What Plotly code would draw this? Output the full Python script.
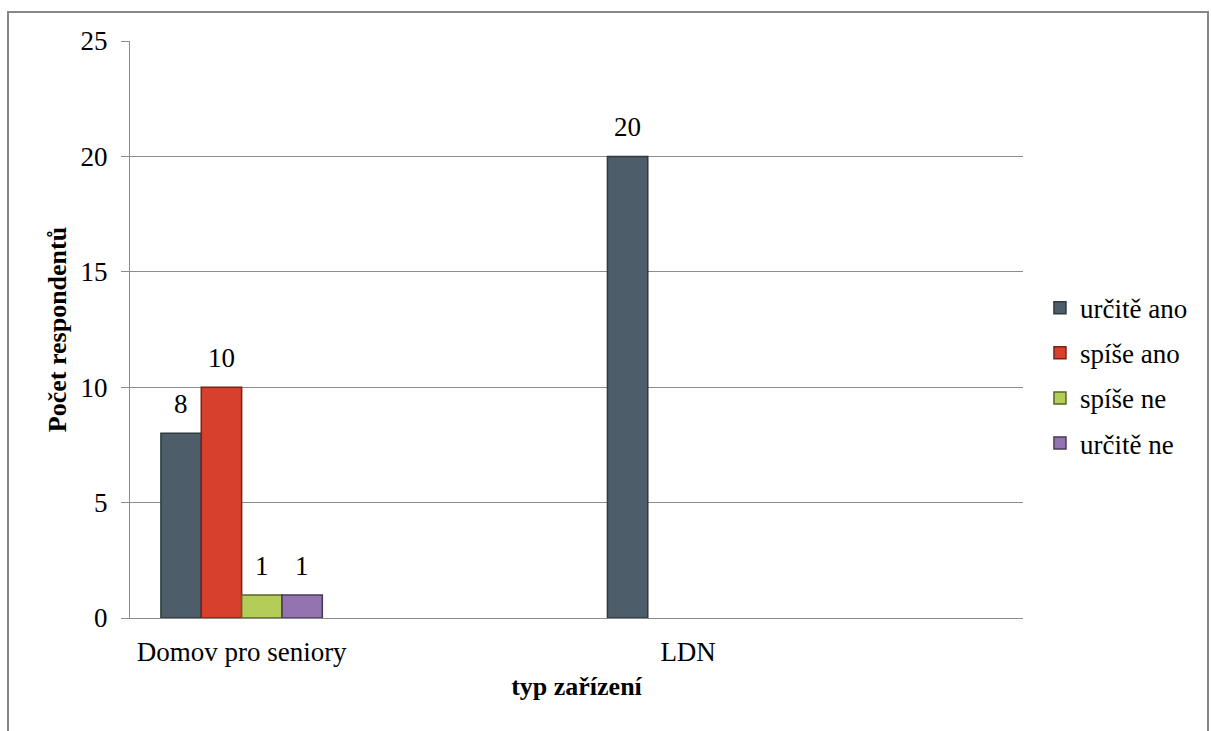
import plotly.graph_objects as go

# Category slots on the x axis (two of them carry no label)
categories = ["Domov pro seniory", "", "LDN", ""]
series_names = ["určitě ano", "spíše ano", "spíše ne", "určitě ne"]
values = {
    "určitě ano": [8, None, 20, None],
    "spíše ano": [10, None, None, None],
    "spíše ne": [1, None, None, None],
    "určitě ne": [1, None, None, None],
}
fill_colors = ["#4d5d69", "#d8402e", "#b4cc58", "#9474b0"]
edge_colors = ["#2c3b3e", "#7a2418", "#5a6426", "#4a3858"]
y_ticks = [0, 5, 10, 15, 20, 25]

FONT = "Liberation Serif, Times New Roman, serif"
FS = 27
FS_TITLE = 26
BARGAP = 0.277

fig = go.Figure()
x_pos = list(range(len(categories)))
for name, fc, ec in zip(series_names, fill_colors, edge_colors):
    fig.add_trace(
        go.Bar(
            x=x_pos,
            y=values[name],
            name=name,
            legendgroup=name,
            marker=dict(color=fc, line=dict(color=ec, width=1.5)),
            hoverinfo="skip",
        )
    )

# Value labels above each bar, placed at the centre of its slot in the group
n = len(series_names)
bar_w = (1 - BARGAP) / n
for i, name in enumerate(series_names):
    for xc, v in zip(x_pos, values[name]):
        if v is None:
            continue
        fig.add_annotation(
            x=xc + (i - (n - 1) / 2) * bar_w,
            y=v,
            text=str(v),
            showarrow=False,
            yanchor="middle",
            yshift=29,
            font=dict(family=FONT, size=FS, color="#000000"),
        )

fig.update_layout(
    width=1211,
    height=731,
    margin=dict(l=130, r=188, t=41, b=113),
    paper_bgcolor="#ffffff",
    plot_bgcolor="#ffffff",
    barmode="group",
    bargap=BARGAP,
    bargroupgap=0,
    font=dict(family=FONT, size=FS, color="#000000"),
    showlegend=True,
    legend=dict(
        x=1.019,
        y=0.42,
        xanchor="left",
        yanchor="middle",
        font=dict(family=FONT, size=FS, color="#000000"),
        tracegroupgap=7,
        itemwidth=30,
        bgcolor="rgba(0,0,0,0)",
    ),
    xaxis=dict(
        range=[-0.5, 3.5],
        tickvals=[0, 2],
        ticktext=[categories[0], categories[2]],
        showgrid=False,
        showline=True,
        linecolor="#8c8c8c",
        linewidth=1,
        ticks="",
        ticklabelstandoff=10,
        tickfont=dict(family=FONT, size=FS),
        title=dict(
            text="<b>typ zařízení</b>",
            font=dict(family=FONT, size=FS_TITLE),
            standoff=10,
        ),
        zeroline=False,
    ),
    yaxis=dict(
        range=[0, 25],
        tickvals=y_ticks,
        showgrid=True,
        gridcolor="#8c8c8c",
        gridwidth=1,
        showline=True,
        linecolor="#8c8c8c",
        linewidth=1,
        ticks="outside",
        ticklen=8,
        tickcolor="#8c8c8c",
        tickfont=dict(family=FONT, size=FS),
        ticklabelstandoff=8,
        title=dict(
            text="<b>Počet respondentů</b>",
            font=dict(family=FONT, size=FS_TITLE),
            standoff=6,
        ),
        zeroline=False,
    ),
)

# Outer chart frame
fig.add_shape(
    type="rect",
    xref="paper",
    yref="paper",
    x0=(8 - 130) / 893,
    x1=(1208 - 130) / 893,
    y0=(618 - 732) / 577,
    y1=(618 - 12) / 577,
    line=dict(color="#878787", width=2),
    fillcolor="rgba(0,0,0,0)",
    layer="below",
)

fig.write_html("out.html")
